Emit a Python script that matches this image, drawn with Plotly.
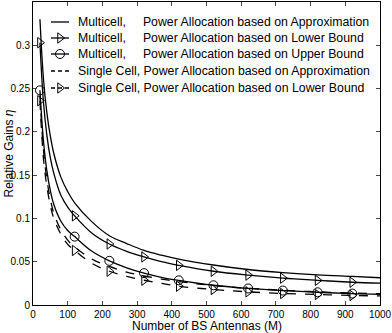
import plotly.graph_objects as go

# ── Data ─────────────────────────────────────────────────────────────────────
M_VALUES = [20, 30, 40, 50, 60, 80, 100, 120, 170, 220, 270, 320, 370, 420,
            520, 620, 720, 820, 920, 1000]
MARKER_M = [20, 120, 220, 320, 420, 520, 620, 720, 820, 920]

MC_APPROX = [0.330, 0.262, 0.222, 0.195, 0.175, 0.148, 0.131, 0.118, 0.096, 0.080,
             0.071, 0.063, 0.0575, 0.053, 0.0462, 0.041, 0.0375, 0.0348, 0.0330, 0.0315]
MC_LOWER = [0.303, 0.235, 0.196, 0.170, 0.152, 0.127, 0.113, 0.103, 0.083, 0.0705,
            0.062, 0.0555, 0.050, 0.0458, 0.039, 0.0345, 0.031, 0.0285, 0.0263, 0.0252]
MC_UPPER = [0.248, 0.190, 0.155, 0.132, 0.116, 0.097, 0.086, 0.079, 0.062, 0.051,
            0.043, 0.0368, 0.032, 0.0285, 0.0228, 0.0191, 0.0167, 0.0147, 0.0132, 0.0124]
SC_APPROX = [0.242, 0.180, 0.145, 0.122, 0.106, 0.087, 0.075, 0.067, 0.053, 0.0445,
             0.038, 0.0335, 0.030, 0.027, 0.0225, 0.0193, 0.017, 0.0152, 0.0138, 0.013]
SC_LOWER = [0.236, 0.170, 0.137, 0.115, 0.100, 0.082, 0.070, 0.063, 0.048, 0.039,
            0.0332, 0.0286, 0.025, 0.0217, 0.0179, 0.0152, 0.0133, 0.0121, 0.0110, 0.0105]

Y_TICKS = [0, 0.05, 0.1, 0.15, 0.2, 0.25, 0.3]
Y_TICK_TEXT = ["0", "0.05", "0.1", "0.15", "0.2", "0.25", "0.3"]
X_TICKS = list(range(0, 1001, 100))

NB = "\u00a0"
SERIES = [
    ("Multicell," + NB * 5 + "Power Allocation based on Approximation", MC_APPROX, "solid", None),
    ("Multicell," + NB * 5 + "Power Allocation based on Lower Bound", MC_LOWER, "solid", "triangle-right-open"),
    ("Multicell," + NB * 5 + "Power Allocation based on Upper Bound", MC_UPPER, "solid", "circle-open"),
    ("Single Cell, Power Allocation based on Approximation", SC_APPROX, "dash", None),
    ("Single Cell, Power Allocation based on Lower Bound", SC_LOWER, "dash", "triangle-right-open"),
]

FONT = "Liberation Sans, Arial, sans-serif"
PLOT_W, PLOT_H = 347, 303          # plot area in px (392-33-12, 333-2-28)

# legend box geometry, in px from the plot area's top-left corner
LEG_X0, LEG_X1, LEG_TEXT_X = 18, 36, 43
LEG_ROWS = [20, 36, 52, 69, 86]

fig = go.Figure()

for (name, values, dash, symbol), row_y in zip(SERIES, LEG_ROWS):
    # curve itself
    fig.add_trace(go.Scatter(
        x=M_VALUES, y=values, mode="lines", line_shape="spline",
        line=dict(color="black", width=1.3, dash=dash),
        showlegend=False, hoverinfo="skip",
    ))
    # markers on a subset of the sampled points
    if symbol:
        mx = [m for m in M_VALUES if m in MARKER_M]
        my = [v for m, v in zip(M_VALUES, values) if m in MARKER_M]
        fig.add_trace(go.Scatter(
            x=mx, y=my, mode="markers",
            marker=dict(symbol=symbol, size=9, color="black", line=dict(width=1, color="black")),
            showlegend=False, hoverinfo="skip",
        ))

    # ── hand-made legend entry (MATLAB style: short sample, tight rows)
    fig.add_trace(go.Scatter(
        x=[LEG_X0, LEG_X1], y=[row_y, row_y], xaxis="x2", yaxis="y2",
        mode="lines", line=dict(color="black", width=1.3, dash="4px,3px" if dash == "dash" else "solid"),
        showlegend=False, hoverinfo="skip",
    ))
    if symbol:
        fig.add_trace(go.Scatter(
            x=[(LEG_X0 + LEG_X1) / 2], y=[row_y], xaxis="x2", yaxis="y2", mode="markers",
            marker=dict(symbol=symbol, size=9, color="black", line=dict(width=1, color="black")),
            showlegend=False, hoverinfo="skip",
        ))
    fig.add_annotation(
        text=name, xref="x2", yref="y2", x=LEG_TEXT_X, y=row_y,
        xanchor="left", yanchor="middle", showarrow=False,
        font=dict(size=12.3, color="black", family=FONT),
    )

fig.add_annotation(
    text="Relative Gains <i>η</i>", xref="paper", yref="paper",
    x=0, xshift=-25, y=0.5, xanchor="center", yanchor="middle",
    textangle=-90, showarrow=False, font=dict(size=12, color="black", family=FONT),
)
fig.add_annotation(
    text="Number of BS Antennas (M)", xref="paper", yref="paper",
    x=0.5, y=0, yshift=-21, xanchor="center", yanchor="middle",
    showarrow=False, font=dict(size=12, color="black", family=FONT),
)

fig.update_xaxes(
    range=[0, 1000], tickvals=X_TICKS, ticks="inside", ticklen=4,
    showline=True, linecolor="black", linewidth=1, mirror="ticks",
    showgrid=False, zeroline=False, tickfont=dict(size=10),
)
fig.update_yaxes(
    range=[0, 0.35], tickvals=Y_TICKS, ticktext=Y_TICK_TEXT, ticks="inside", ticklen=4,
    showline=True, linecolor="black", linewidth=1, mirror="ticks",
    showgrid=False, zeroline=False, tickfont=dict(size=10),
)

fig.update_layout(
    width=392, height=333,
    margin=dict(l=33, r=12, t=2, b=28, autoexpand=False),
    font=dict(family=FONT, size=12, color="black"),
    plot_bgcolor="white", paper_bgcolor="white",
    showlegend=False,
    xaxis2=dict(overlaying="x", range=[0, PLOT_W], visible=False, fixedrange=True),
    yaxis2=dict(overlaying="y", range=[PLOT_H, 0], visible=False, fixedrange=True),
)

# the page's default body margin would shift the figure by 8px
fig.write_html(
    "out.html",
    config={"displayModeBar": False},
    post_script="document.body.style.margin='0px';",
)
